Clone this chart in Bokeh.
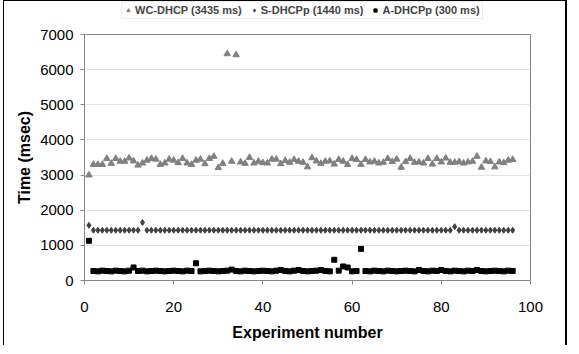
from bokeh.plotting import figure
from bokeh.layouts import column
from bokeh.models import Range1d, SingleIntervalTicker, Legend, LegendItem, ColumnDataSource
from bokeh.embed import file_html
from bokeh.resources import INLINE

experiment = list(range(1, 97))

wc_dhcp = [3000, 3300, 3300, 3300, 3470, 3330, 3470, 3390, 3390, 3480,
           3400, 3280, 3340, 3420, 3470, 3450, 3300, 3340, 3450, 3420,
           3350, 3470, 3340, 3300, 3420, 3450, 3320, 3470, 3530, 3210,
           3330, 6450, 3390, 6420, 3370, 3330, 3500, 3340, 3390, 3350,
           3340, 3450, 3450, 3320, 3410, 3360, 3440, 3390, 3360, 3230,
           3490, 3400, 3330, 3390, 3400, 3310, 3440, 3390, 3300, 3470,
           3440, 3300, 3440, 3370, 3390, 3340, 3360, 3470, 3380, 3450,
           3220, 3380, 3470, 3360, 3370, 3340, 3470, 3310, 3470, 3370,
           3480, 3360, 3360, 3380, 3340, 3370, 3390, 3530, 3220, 3400,
           3380, 3230, 3370, 3350, 3420, 3440]

s_dhcpp = [1570, 1430, 1430, 1430, 1430, 1430, 1430, 1430, 1430, 1430,
           1430, 1430, 1650, 1430, 1430, 1430, 1430, 1430, 1430, 1430,
           1430, 1430, 1430, 1430, 1430, 1430, 1430, 1430, 1430, 1430,
           1430, 1430, 1430, 1430, 1430, 1430, 1430, 1430, 1430, 1430,
           1430, 1430, 1430, 1430, 1430, 1430, 1430, 1430, 1430, 1430,
           1430, 1430, 1430, 1430, 1430, 1430, 1430, 1430, 1430, 1430,
           1430, 1430, 1430, 1430, 1430, 1430, 1430, 1430, 1430, 1430,
           1430, 1430, 1430, 1430, 1430, 1430, 1430, 1430, 1430, 1430,
           1430, 1430, 1530, 1430, 1430, 1430, 1430, 1430, 1430, 1430,
           1430, 1430, 1430, 1430, 1430, 1430]

a_dhcpp = [1130, 270, 260, 280, 270, 260, 280, 270, 260, 280,
           370, 270, 280, 260, 270, 280, 270, 260, 270, 280,
           270, 260, 280, 270, 490, 260, 270, 280, 270, 260,
           270, 280, 310, 270, 260, 280, 270, 260, 270, 280,
           270, 260, 280, 300, 270, 260, 280, 300, 270, 260,
           270, 280, 300, 270, 260, 590, 280, 400, 370, 260,
           270, 900, 270, 260, 280, 270, 260, 280, 270, 260,
           270, 280, 270, 260, 300, 270, 260, 280, 270, 300,
           270, 260, 280, 270, 260, 280, 270, 300, 270, 260,
           270, 280, 270, 260, 280, 270]

labels = ["WC-DHCP (3435 ms)", "S-DHCPp (1440 ms)", "A-DHCPp (300 ms)"]

src = ColumnDataSource(dict(x=experiment, wc=wc_dhcp, s=s_dhcpp, a=a_dhcpp))

FONT = "Liberation Sans"
cols = ["wc", "s", "a"]
STYLES = [("#808080", "triangle", 6.5), ("#404040", "diamond", 6), ("black", "square", 5)]

# ---- legend strip (top); its renderers use the same data but a range that shows none ----
lg = figure(width=564, height=24, x_range=Range1d(-2, -1), y_range=Range1d(0, 1),
            output_backend="svg", toolbar_location=None, min_border=0,
            x_axis_location=None, y_axis_location=None)
lg.styles = {"border-left": "1px solid black", "border-top": "1px solid black",
             "border-right": "2px solid black", "margin-left": "3px"}
lg.outline_line_color = None
lg.grid.visible = False
key_r = [lg.scatter("x", col, source=src, marker=m, size=s, fill_color=c, line_color=c)
         for col, (c, m, s) in zip(cols, STYLES)]
legend = Legend(items=[LegendItem(label=l, renderers=[r]) for l, r in zip(labels, key_r)],
                orientation="horizontal", location=(37, 6),
                label_text_font=FONT, label_text_font_size="11px",
                label_text_font_style="bold", label_height=11,
                glyph_width=8, glyph_height=8, label_standoff=3, spacing=8,
                padding=2, margin=0, border_line_color="#d9d9d9",
                background_fill_alpha=1)
lg.add_layout(legend, "center")

# ---- main chart ----
p = figure(width=564, height=321, x_range=Range1d(0, 100), y_range=Range1d(0, 7000),
           output_backend="svg", toolbar_location=None,
           min_border_left=80, min_border_right=38, min_border_top=10, min_border_bottom=65)
p.styles = {"border-left": "1px solid black", "border-right": "2px solid black",
            "margin-left": "3px", "margin-bottom": "-8px"}

p.outline_line_color = "#868686"
p.outline_line_width = 1
p.background_fill_color = "white"

for col, (c, m, s) in zip(cols, STYLES):
    p.scatter("x", col, source=src, marker=m, size=s, fill_color=c, line_color=c)

p.xaxis.ticker = SingleIntervalTicker(interval=20)
p.yaxis.ticker = SingleIntervalTicker(interval=1000)
for ax in (p.xaxis[0], p.yaxis[0]):
    ax.axis_line_color = "#868686"
    ax.major_tick_line_color = "#868686"
    ax.major_tick_out = 4
    ax.major_tick_in = 0
    ax.minor_tick_line_color = None
    ax.major_label_text_font = FONT
    ax.major_label_text_font_size = "15px"
    ax.major_label_text_color = "black"
    ax.axis_label_text_font = FONT
    ax.axis_label_text_font_size = "16px"
    ax.axis_label_text_font_style = "bold"
    ax.axis_label_text_color = "black"

p.xaxis.axis_label = "Experiment number"
p.yaxis.axis_label = "Time (msec)"
p.xaxis.major_label_standoff = 17
p.xaxis.axis_label_standoff = 9
p.yaxis.major_label_standoff = 7
p.yaxis.axis_label_standoff = 4

p.xgrid.grid_line_color = None
p.ygrid.grid_line_color = "#e3e3e3"

layout = column(lg, p, spacing=0)
open("out.html", "w").write(file_html(layout, INLINE))
